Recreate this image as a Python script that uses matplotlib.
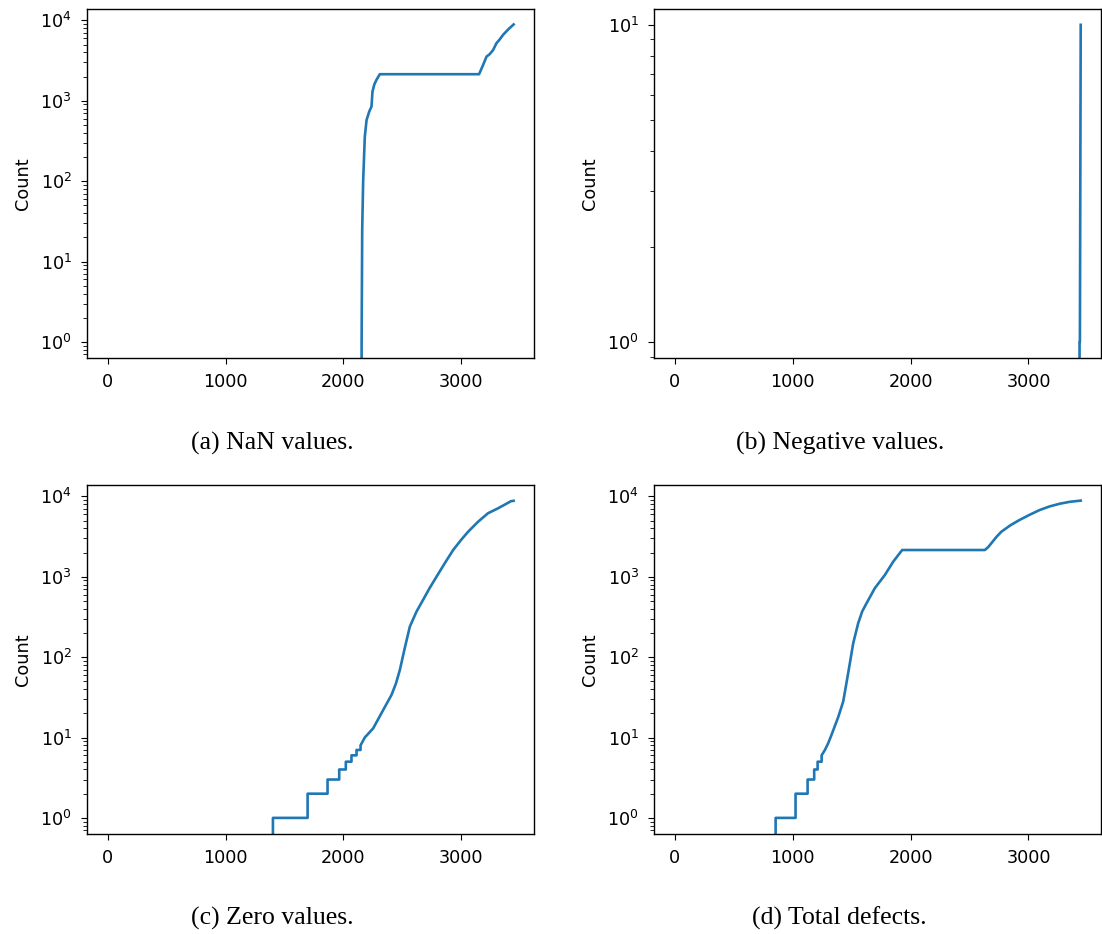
import matplotlib
matplotlib.use("Agg")
import matplotlib.pyplot as plt

# cumulative defect counts over the series index (knots of each curve)
nan_x = [0, 2150, 2154, 2159, 2167, 2181, 2196, 2218, 2238, 2246, 2262, 2280,
         2308, 3150, 3170, 3184, 3213, 3240, 3269, 3297, 3325, 3353, 3400, 3443]
nan_y = [0, 0, 1, 25, 100, 357, 576, 730, 850, 1300, 1600, 1820,
         2140, 2140, 2500, 2790, 3540, 3800, 4280, 5190, 5800, 6600, 7800, 8900]

neg_x = [0, 3432, 3433, 3436, 3443]
neg_y = [0, 0, 1, 1, 10]

zero_x = [0, 1402, 1402, 1696, 1696, 1865, 1865, 1964, 1964, 2020, 2020,
          2068, 2068, 2111, 2111, 2145, 2145, 2181, 2252, 2337, 2408, 2445,
          2478, 2520, 2563, 2620, 2675, 2730, 2789, 2860, 2930, 3000, 3057,
          3142, 3226, 3311, 3382, 3420, 3443]
zero_y = [0, 0, 1, 1, 2, 2, 3, 3, 4, 4, 5,
          5, 6, 6, 7, 7, 8, 10, 13, 22, 34, 47,
          69, 130, 240, 370, 515, 720, 1000, 1480, 2150, 2900, 3630,
          4840, 6170, 7100, 8100, 8700, 8800]

total_x = [0, 856, 856, 1025, 1025, 1127, 1127, 1183, 1183, 1212, 1212,
           1246, 1246, 1274, 1302, 1330, 1387, 1429, 1471, 1514, 1556, 1590,
           1627, 1697, 1782, 1853, 1929, 2630, 2660, 2686, 2730, 2771, 2850,
           2926, 3010, 3096, 3180, 3266, 3350, 3443]
total_y = [0, 0, 1, 1, 2, 2, 3, 3, 4, 4, 5,
           5, 6, 7, 8.5, 10.8, 18, 28, 63, 149, 264, 370,
           468, 720, 1050, 1540, 2150, 2150, 2350, 2620, 3150, 3640, 4400,
           5100, 5900, 6770, 7500, 8100, 8550, 8850]

captions = ["(a) NaN values.", "(b) Negative values.",
            "(c) Zero values.", "(d) Total defects."]

fig = plt.figure(figsize=(11.02, 9.34), dpi=100)

boxes = [(0.0789, 0.6167), (0.5935, 0.6167), (0.0789, 0.1071), (0.5935, 0.1071)]
series = [(nan_x, nan_y), (neg_x, neg_y), (zero_x, zero_y), (total_x, total_y)]
ylims = [(10**-0.2, 10**4.142), (10**-0.05, 10**1.05),
         (10**-0.2, 10**4.142), (10**-0.2, 10**4.142)]
cap_pos = [(0.247, 0.5257), (0.762, 0.5257), (0.247, 0.0171), (0.762, 0.0171)]

for (left, bottom), (xs, ys), yl, cap, (cx, cy) in zip(boxes, series, ylims, captions, cap_pos):
    ax = fig.add_axes([left, bottom, 0.4056, 0.3737])
    ax.plot(xs, ys, color="#1f77b4", lw=1.9)
    ax.set_yscale("log")
    ax.set_xlim(-175, 3615)
    ax.set_ylim(*yl)
    ax.set_xticks([0, 1000, 2000, 3000])
    ax.set_ylabel("Count", fontsize=12.7, labelpad=6)
    ax.tick_params(which="major", labelsize=12.7, length=4.5, pad=6.3)
    ax.tick_params(which="minor", length=2.8)
    for s in ax.spines.values():
        s.set_linewidth(1.0)
    fig.text(cx, cy, cap, ha="center", va="center",
             family="Liberation Serif", fontsize=18.5)

fig.savefig("out.png", dpi=100)
